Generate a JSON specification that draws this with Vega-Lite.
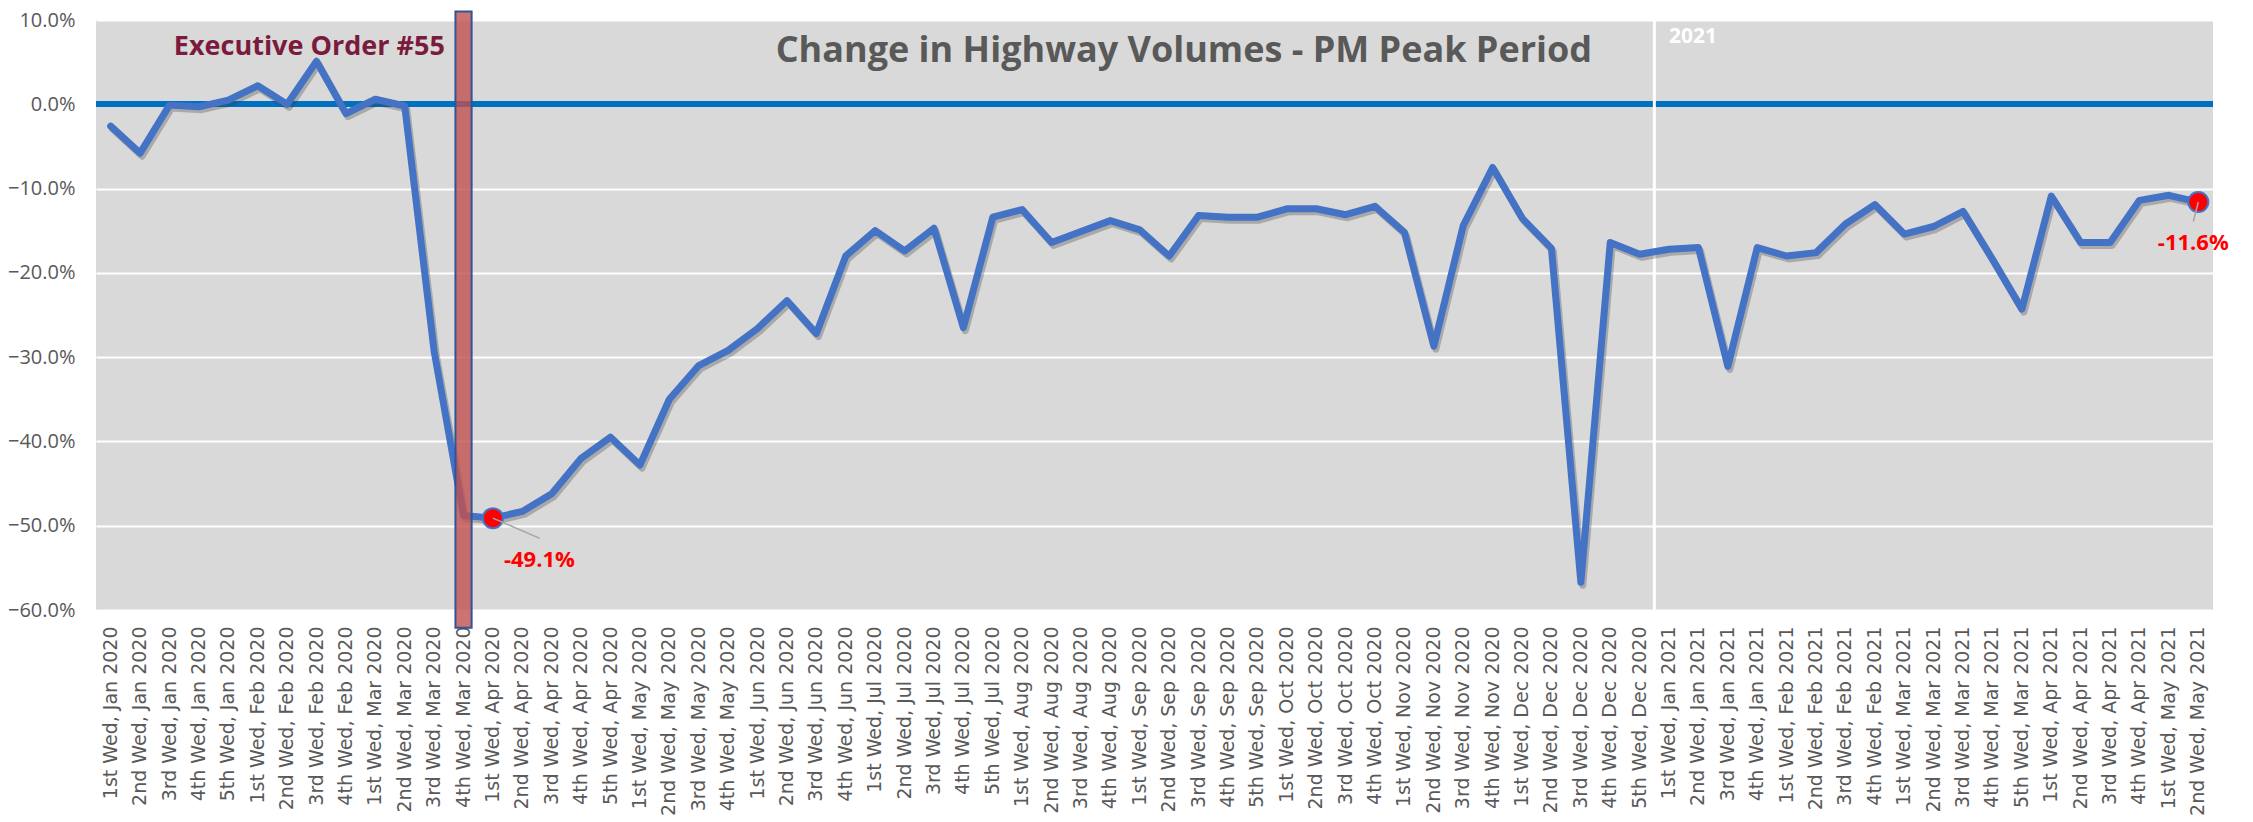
{
  "$schema": "https://vega.github.io/schema/vega-lite/v6.json",
  "width": 2117,
  "height": 590,
  "autosize": {"type": "none"},
  "padding": {"left": 96, "top": 20, "right": 40, "bottom": 212},
  "background": "white",
  "config": {"view": {"fill": "#D9D9D9", "stroke": null}},
  "datasets": {
    "series": [
      {"wk": "1st Wed, Jan 2020", "v": -2.6},
      {"wk": "2nd Wed, Jan 2020", "v": -5.8},
      {"wk": "3rd Wed, Jan 2020", "v": -0.1},
      {"wk": "4th Wed, Jan 2020", "v": -0.3},
      {"wk": "5th Wed, Jan 2020", "v": 0.5},
      {"wk": "1st Wed, Feb 2020", "v": 2.2},
      {"wk": "2nd Wed, Feb 2020", "v": 0.0},
      {"wk": "3rd Wed, Feb 2020", "v": 5.1},
      {"wk": "4th Wed, Feb 2020", "v": -1.1},
      {"wk": "1st Wed, Mar 2020", "v": 0.6},
      {"wk": "2nd Wed, Mar 2020", "v": -0.2},
      {"wk": "3rd Wed, Mar 2020", "v": -29.3},
      {"wk": "4th Wed, Mar 2020", "v": -48.8},
      {"wk": "1st Wed, Apr 2020", "v": -49.1},
      {"wk": "2nd Wed, Apr 2020", "v": -48.3},
      {"wk": "3rd Wed, Apr 2020", "v": -46.2},
      {"wk": "4th Wed, Apr 2020", "v": -42.0},
      {"wk": "5th Wed, Apr 2020", "v": -39.5},
      {"wk": "1st Wed, May 2020", "v": -42.8},
      {"wk": "2nd Wed, May 2020", "v": -35.0},
      {"wk": "3rd Wed, May 2020", "v": -31.0},
      {"wk": "4th Wed, May 2020", "v": -29.2},
      {"wk": "1st Wed, Jun 2020", "v": -26.6},
      {"wk": "2nd Wed, Jun 2020", "v": -23.3},
      {"wk": "3rd Wed, Jun 2020", "v": -27.2},
      {"wk": "4th Wed, Jun 2020", "v": -18.0},
      {"wk": "1st Wed, Jul 2020", "v": -15.0},
      {"wk": "2nd Wed, Jul 2020", "v": -17.4},
      {"wk": "3rd Wed, Jul 2020", "v": -14.7},
      {"wk": "4th Wed, Jul 2020", "v": -26.5},
      {"wk": "5th Wed, Jul 2020", "v": -13.4},
      {"wk": "1st Wed, Aug 2020", "v": -12.5},
      {"wk": "2nd Wed, Aug 2020", "v": -16.4},
      {"wk": "3rd Wed, Aug 2020", "v": -15.1},
      {"wk": "4th Wed, Aug 2020", "v": -13.8},
      {"wk": "1st Wed, Sep 2020", "v": -14.9},
      {"wk": "2nd Wed, Sep 2020", "v": -18.0},
      {"wk": "3rd Wed, Sep 2020", "v": -13.2},
      {"wk": "4th Wed, Sep 2020", "v": -13.4},
      {"wk": "5th Wed, Sep 2020", "v": -13.4},
      {"wk": "1st Wed, Oct 2020", "v": -12.4},
      {"wk": "2nd Wed, Oct 2020", "v": -12.4},
      {"wk": "3rd Wed, Oct 2020", "v": -13.1},
      {"wk": "4th Wed, Oct 2020", "v": -12.1},
      {"wk": "1st Wed, Nov 2020", "v": -15.2},
      {"wk": "2nd Wed, Nov 2020", "v": -28.7},
      {"wk": "3rd Wed, Nov 2020", "v": -14.4},
      {"wk": "4th Wed, Nov 2020", "v": -7.5},
      {"wk": "1st Wed, Dec 2020", "v": -13.5},
      {"wk": "2nd Wed, Dec 2020", "v": -17.1},
      {"wk": "3rd Wed, Dec 2020", "v": -56.7},
      {"wk": "4th Wed, Dec 2020", "v": -16.4},
      {"wk": "5th Wed, Dec 2020", "v": -17.8},
      {"wk": "1st Wed, Jan 2021", "v": -17.2},
      {"wk": "2nd Wed, Jan 2021", "v": -17.0},
      {"wk": "3rd Wed, Jan 2021", "v": -31.1},
      {"wk": "4th Wed, Jan 2021", "v": -17.0},
      {"wk": "1st Wed, Feb 2021", "v": -18.0},
      {"wk": "2nd Wed, Feb 2021", "v": -17.6},
      {"wk": "3rd Wed, Feb 2021", "v": -14.2},
      {"wk": "4th Wed, Feb 2021", "v": -11.9},
      {"wk": "1st Wed, Mar 2021", "v": -15.4},
      {"wk": "2nd Wed, Mar 2021", "v": -14.5},
      {"wk": "3rd Wed, Mar 2021", "v": -12.7},
      {"wk": "4th Wed, Mar 2021", "v": -18.4},
      {"wk": "5th Wed, Mar 2021", "v": -24.3},
      {"wk": "1st Wed, Apr 2021", "v": -10.9},
      {"wk": "2nd Wed, Apr 2021", "v": -16.4},
      {"wk": "3rd Wed, Apr 2021", "v": -16.4},
      {"wk": "4th Wed, Apr 2021", "v": -11.4},
      {"wk": "1st Wed, May 2021", "v": -10.8},
      {"wk": "2nd Wed, May 2021", "v": -11.6}
    ]
  },
  "layer": [
    {
      "data": {"name": "series"},
      "mark": {"type": "rule", "color": "#0070C0", "strokeWidth": 5},
      "encoding": {
        "y": {"datum": 0, "type": "quantitative", "scale": {"domain": [-60, 10], "nice": false, "zero": false},
          "axis": {"values": [-60, -50, -40, -30, -20, -10, 0, 10], "labelExpr": "format(datum.value, '.1f') + '%'", "grid": true, "gridColor": "white", "gridWidth": 2, "domain": false, "ticks": false, "labelFont": "Open Sans", "labelFontSize": 20, "labelColor": "#595959", "labelPadding": 21, "title": null}}
      }
    },
    {
      "data": {"values": [{"wk": "1st Wed, Jan 2021"}]},
      "mark": {"type": "rule", "color": "white", "strokeWidth": 3},
      "encoding": {
        "x": {"field": "wk", "type": "ordinal", "bandPosition": 0, "sort": null,
          "scale": {"type": "band", "paddingInner": 0, "paddingOuter": 0,
            "domain": ["1st Wed, Jan 2020","2nd Wed, Jan 2020","3rd Wed, Jan 2020","4th Wed, Jan 2020","5th Wed, Jan 2020","1st Wed, Feb 2020","2nd Wed, Feb 2020","3rd Wed, Feb 2020","4th Wed, Feb 2020","1st Wed, Mar 2020","2nd Wed, Mar 2020","3rd Wed, Mar 2020","4th Wed, Mar 2020","1st Wed, Apr 2020","2nd Wed, Apr 2020","3rd Wed, Apr 2020","4th Wed, Apr 2020","5th Wed, Apr 2020","1st Wed, May 2020","2nd Wed, May 2020","3rd Wed, May 2020","4th Wed, May 2020","1st Wed, Jun 2020","2nd Wed, Jun 2020","3rd Wed, Jun 2020","4th Wed, Jun 2020","1st Wed, Jul 2020","2nd Wed, Jul 2020","3rd Wed, Jul 2020","4th Wed, Jul 2020","5th Wed, Jul 2020","1st Wed, Aug 2020","2nd Wed, Aug 2020","3rd Wed, Aug 2020","4th Wed, Aug 2020","1st Wed, Sep 2020","2nd Wed, Sep 2020","3rd Wed, Sep 2020","4th Wed, Sep 2020","5th Wed, Sep 2020","1st Wed, Oct 2020","2nd Wed, Oct 2020","3rd Wed, Oct 2020","4th Wed, Oct 2020","1st Wed, Nov 2020","2nd Wed, Nov 2020","3rd Wed, Nov 2020","4th Wed, Nov 2020","1st Wed, Dec 2020","2nd Wed, Dec 2020","3rd Wed, Dec 2020","4th Wed, Dec 2020","5th Wed, Dec 2020","1st Wed, Jan 2021","2nd Wed, Jan 2021","3rd Wed, Jan 2021","4th Wed, Jan 2021","1st Wed, Feb 2021","2nd Wed, Feb 2021","3rd Wed, Feb 2021","4th Wed, Feb 2021","1st Wed, Mar 2021","2nd Wed, Mar 2021","3rd Wed, Mar 2021","4th Wed, Mar 2021","5th Wed, Mar 2021","1st Wed, Apr 2021","2nd Wed, Apr 2021","3rd Wed, Apr 2021","4th Wed, Apr 2021","1st Wed, May 2021","2nd Wed, May 2021"]},
          "axis": {"labelAngle": -90, "labelFont": "DejaVu Sans", "labelFontSize": 19, "labelColor": "#595959", "domain": false, "ticks": false, "labelPadding": 16, "title": null, "grid": false, "labelOverlap": false, "labelLimit": 400}}
      }
    },
    {
      "data": {"name": "series"},
      "mark": {"type": "line", "color": "#3A3A3A", "opacity": 0.3, "strokeWidth": 7, "strokeJoin": "round", "strokeCap": "round", "xOffset": 2, "yOffset": 3},
      "encoding": {
        "x": {"field": "wk", "type": "ordinal", "sort": null},
        "y": {"field": "v", "type": "quantitative"}
      }
    },
    {
      "data": {"name": "series"},
      "mark": {"type": "line", "color": "#4472C4", "strokeWidth": 7, "strokeJoin": "round", "strokeCap": "round"},
      "encoding": {
        "x": {"field": "wk", "type": "ordinal", "sort": null},
        "y": {"field": "v", "type": "quantitative"}
      }
    },
    {
      "data": {"values": [{"wk": "4th Wed, Mar 2020", "top": 11, "bot": -62.1}]},
      "mark": {"type": "bar", "width": {"band": 0.55}, "fill": "#C0504D", "fillOpacity": 0.8, "stroke": "#2F5597", "strokeWidth": 2, "clip": false},
      "encoding": {
        "x": {"field": "wk", "type": "ordinal", "sort": null},
        "y": {"field": "top", "type": "quantitative"},
        "y2": {"field": "bot"}
      }
    },
    {
      "data": {"values": [{"wk": "1st Wed, Apr 2020", "v": -49.1}, {"wk": "2nd Wed, May 2021", "v": -11.6}]},
      "mark": {"type": "point", "filled": true, "fill": "#FF0000", "stroke": "#4472C4", "strokeWidth": 2, "size": 400, "opacity": 1},
      "encoding": {
        "x": {"field": "wk", "type": "ordinal", "sort": null},
        "y": {"field": "v", "type": "quantitative"}
      }
    },
    {
      "data": {"values": [{"wk": "1st Wed, Apr 2020", "wk2": "3rd Wed, Apr 2020", "v": -49.1, "v2": -51.5}]},
      "mark": {"type": "rule", "color": "#A6A6A6", "strokeWidth": 1.5, "x2Offset": -12},
      "encoding": {
        "x": {"field": "wk", "type": "ordinal", "sort": null},
        "x2": {"field": "wk2"},
        "y": {"field": "v", "type": "quantitative"},
        "y2": {"field": "v2"}
      }
    },
    {
      "data": {"values": [{"wk": "2nd Wed, May 2021", "v": -11.6, "v2": -13.9}]},
      "mark": {"type": "rule", "color": "#A6A6A6", "strokeWidth": 1.5, "x2Offset": -5},
      "encoding": {
        "x": {"field": "wk", "type": "ordinal", "sort": null},
        "x2": {"field": "wk"},
        "y": {"field": "v", "type": "quantitative"},
        "y2": {"field": "v2"}
      }
    },
    {
      "data": {"values": [{"wk": "3rd Wed, Sep 2020", "v": 5.0, "t": "Change in Highway Volumes - PM Peak Period"}]},
      "mark": {"type": "text", "font": "Open Sans", "fontSize": 36, "fontWeight": "bold", "color": "#595959", "align": "center", "baseline": "alphabetic"},
      "encoding": {
        "x": {"field": "wk", "type": "ordinal", "sort": null, "bandPosition": 0},
        "y": {"field": "v", "type": "quantitative"},
        "text": {"field": "t"}
      }
    },
    {
      "data": {"values": [{"wk": "4th Wed, Mar 2020", "v": 5.9, "t": "Executive Order #55"}]},
      "mark": {"type": "text", "font": "Open Sans", "fontSize": 27, "fontWeight": "bold", "color": "#7A1B3D", "align": "right", "baseline": "alphabetic", "dx": -4},
      "encoding": {
        "x": {"field": "wk", "type": "ordinal", "sort": null, "bandPosition": 0},
        "y": {"field": "v", "type": "quantitative"},
        "text": {"field": "t"}
      }
    },
    {
      "data": {"values": [{"wk": "1st Wed, Jan 2021", "v": 7.3, "t": "2021"}]},
      "mark": {"type": "text", "font": "Open Sans", "fontSize": 21, "fontWeight": "bold", "color": "white", "align": "left", "baseline": "alphabetic"},
      "encoding": {
        "x": {"field": "wk", "type": "ordinal", "sort": null},
        "y": {"field": "v", "type": "quantitative"},
        "text": {"field": "t"}
      }
    },
    {
      "data": {"values": [{"wk": "1st Wed, Apr 2020", "v": -54.95, "t": "-49.1%"}]},
      "mark": {"type": "text", "font": "Open Sans", "fontSize": 22, "fontWeight": "bold", "color": "#FF0000", "align": "left", "baseline": "alphabetic", "dx": 11},
      "encoding": {
        "x": {"field": "wk", "type": "ordinal", "sort": null},
        "y": {"field": "v", "type": "quantitative"},
        "text": {"field": "t"}
      }
    },
    {
      "data": {"values": [{"wk": "2nd Wed, May 2021", "v": -17.3, "t": "-11.6%"}]},
      "mark": {"type": "text", "font": "Open Sans", "fontSize": 22, "fontWeight": "bold", "color": "#FF0000", "align": "center", "baseline": "alphabetic", "dx": -5},
      "encoding": {
        "x": {"field": "wk", "type": "ordinal", "sort": null},
        "y": {"field": "v", "type": "quantitative"},
        "text": {"field": "t"}
      }
    }
  ]
}
